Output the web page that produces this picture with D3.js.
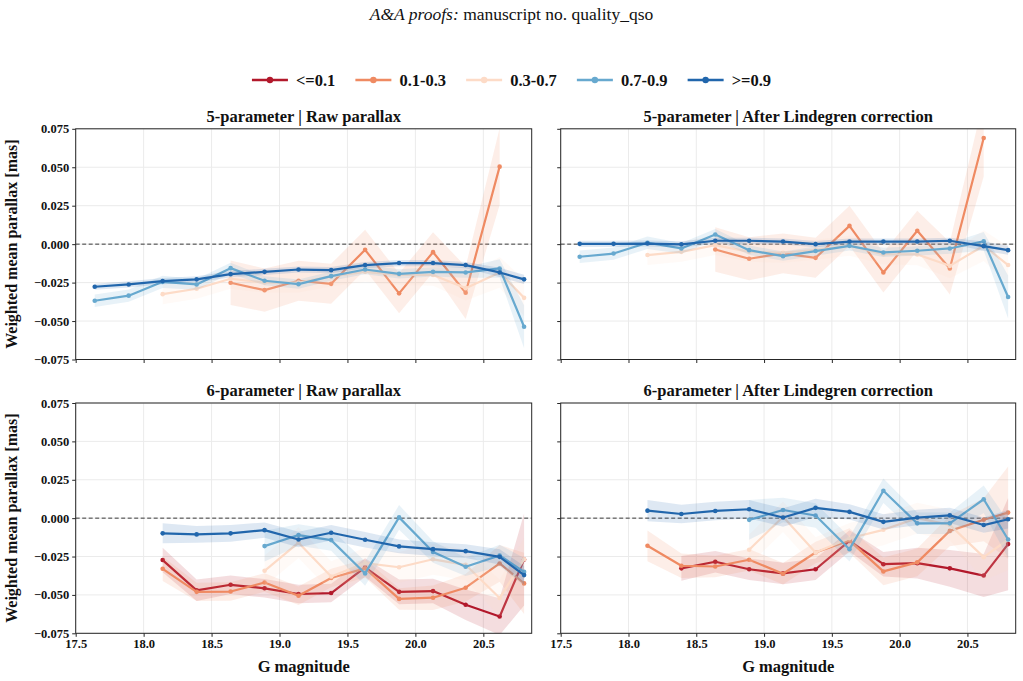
<!DOCTYPE html>
<html><head><meta charset="utf-8">
<script src="https://cdn.jsdelivr.net/npm/d3@7"></script>
<style>
body{margin:0;background:#fff}
text{font-family:"Liberation Serif","Times New Roman",serif}
</style>
</head><body><svg id="c" width="1023" height="681"></svg>
<script>
// ---------------- data ----------------
const G = [17.64,17.89,18.14,18.39,18.64,18.89,19.14,19.38,19.63,19.88,20.13,20.37,20.62,20.80];
const seriesNames = ["<=0.1","0.1-0.3","0.3-0.7","0.7-0.9",">=0.9"];
const seriesColors = ["#b2182b","#ef8a62","#fddbc7","#67a9cf","#2166ac"];
const panelTitles = ["5-parameter | Raw parallax","5-parameter | After Lindegren correction",
                     "6-parameter | Raw parallax","6-parameter | After Lindegren correction"];
const xTicks = [17.5,18.0,18.5,19.0,19.5,20.0,20.5];
const yTicks = [-0.075,-0.050,-0.025,0.000,0.025,0.050,0.075];
const _ = null;

// 5-parameter raw
const raw5_q01  = [_,_,_,_,_,_,_,_,_,_,_,_,_,_];
const raw5_q13  = [_,_,_,_,-0.0251,-0.0299,-0.0238,-0.0258,-0.0037,-0.0320,-0.0052,-0.0316,0.0504,_];
const raw5_q37  = [_,_,-0.0325,-0.0290,-0.0225,-0.0250,-0.0250,-0.0210,-0.0180,-0.0200,-0.0200,-0.0286,-0.0184,-0.0349];
const raw5_q79  = [-0.0368,-0.0335,-0.0245,-0.0262,-0.0156,-0.0238,-0.0260,-0.0208,-0.0165,-0.0193,-0.0180,-0.0184,-0.0158,-0.0537];
const raw5_q9   = [-0.0277,-0.0262,-0.0240,-0.0229,-0.0195,-0.0180,-0.0165,-0.0169,-0.0136,-0.0123,-0.0123,-0.0136,-0.0184,-0.0229];
const raw5_e01  = [_,_,_,_,_,_,_,_,_,_,_,_,_,_];
const raw5_e13  = [_,_,_,_,0.0145,0.0140,0.0130,0.0130,0.0130,0.0130,0.0130,0.0170,0.0250,_];
const raw5_e37  = [_,_,0.0065,0.0065,0.0065,0.0065,0.0065,0.0065,0.0065,0.0065,0.0070,0.0080,0.0100,0.0120];
const raw5_e79  = [0.0040,0.0040,0.0040,0.0035,0.0035,0.0030,0.0030,0.0030,0.0030,0.0030,0.0030,0.0035,0.0060,0.0140];
const raw5_e9   = [0.0020,0.0020,0.0020,0.0020,0.0020,0.0020,0.0020,0.0020,0.0020,0.0020,0.0020,0.0020,0.0030,0.0030];

// 5-parameter Lindegren
const lin5_q01  = [_,_,_,_,_,_,_,_,_,_,_,_,_,_];
const lin5_q13  = [_,_,_,_,-0.0035,-0.0095,-0.0060,-0.0089,0.0119,-0.0184,0.0087,-0.0158,0.0690,_];
const lin5_q37  = [_,_,-0.0071,-0.0050,-0.0006,-0.0050,-0.0056,-0.0037,-0.0010,-0.0065,-0.0067,-0.0141,-0.0010,-0.0136];
const lin5_q79  = [-0.0082,-0.0061,0.0009,-0.0028,0.0063,-0.0039,-0.0078,-0.0045,-0.0011,-0.0054,-0.0043,-0.0028,0.0019,-0.0344];
const lin5_q9   = [0.0002,0.0002,0.0004,-0.0001,0.0022,0.0022,0.0017,0.0000,0.0017,0.0017,0.0017,0.0022,-0.0013,-0.0039];
const lin5_e01  = [_,_,_,_,_,_,_,_,_,_,_,_,_,_];
const lin5_e13  = [_,_,_,_,0.0145,0.0140,0.0130,0.0130,0.0130,0.0130,0.0130,0.0170,0.0250,_];
const lin5_e37  = [_,_,0.0065,0.0065,0.0065,0.0065,0.0065,0.0065,0.0065,0.0065,0.0070,0.0080,0.0100,0.0120];
const lin5_e79  = [0.0040,0.0040,0.0040,0.0035,0.0035,0.0030,0.0030,0.0030,0.0030,0.0030,0.0030,0.0035,0.0060,0.0140];
const lin5_e9   = [0.0020,0.0020,0.0020,0.0020,0.0020,0.0020,0.0020,0.0020,0.0020,0.0020,0.0020,0.0020,0.0030,0.0030];

// 6-parameter raw
const raw6_q01  = [_,_,-0.0273,-0.0470,-0.0434,-0.0457,-0.0494,-0.0488,-0.0321,-0.0480,-0.0475,-0.0564,-0.0641,-0.0269];
const raw6_q13  = [_,_,-0.0330,-0.0480,-0.0478,-0.0419,-0.0505,-0.0390,-0.0327,-0.0526,-0.0518,-0.0453,-0.0295,-0.0425];
const raw6_q37  = [_,_,_,_,_,-0.0343,-0.0160,-0.0380,-0.0293,-0.0320,-0.0268,-0.0304,-0.0520,-0.0268];
const raw6_q79  = [_,_,_,_,_,-0.0182,-0.0110,-0.0143,-0.0360,0.0005,-0.0220,-0.0317,-0.0243,-0.0350];
const raw6_q9   = [_,_,-0.0099,-0.0106,-0.0099,-0.0078,-0.0139,-0.0095,-0.0141,-0.0184,-0.0202,-0.0215,-0.0252,-0.0371];
const raw6_e01  = [_,_,0.0080,0.0070,0.0060,0.0060,0.0060,0.0060,0.0060,0.0080,0.0080,0.0100,0.0120,0.0300];
const raw6_e13  = [_,_,0.0080,0.0060,0.0060,0.0060,0.0060,0.0060,0.0060,0.0070,0.0080,0.0090,0.0120,0.0200];
const raw6_e37  = [_,_,_,_,_,0.0100,0.0100,0.0100,0.0100,0.0100,0.0100,0.0100,0.0120,0.0140];
const raw6_e79  = [_,_,_,_,_,0.0100,0.0070,0.0070,0.0080,0.0080,0.0070,0.0060,0.0070,0.0090];
const raw6_e9   = [_,_,0.0065,0.0055,0.0055,0.0050,0.0050,0.0050,0.0050,0.0045,0.0045,0.0045,0.0050,0.0060];

// 6-parameter Lindegren
const lin6_q01  = [_,_,_,-0.0327,-0.0284,-0.0333,-0.0360,-0.0333,-0.0148,-0.0300,-0.0293,-0.0327,-0.0374,-0.0169];
const lin6_q13  = [_,_,-0.0180,-0.0310,-0.0315,-0.0271,-0.0362,-0.0224,-0.0146,-0.0347,-0.0288,-0.0083,-0.0010,0.0036];
const lin6_q37  = [_,_,_,_,_,-0.0206,0.0009,-0.0224,-0.0131,-0.0076,0.0000,-0.0044,-0.0254,-0.0139];
const lin6_q79  = [_,_,_,_,_,-0.0011,0.0053,0.0017,-0.0202,0.0178,-0.0034,-0.0034,0.0123,-0.0139];
const lin6_q9   = [_,_,0.0049,0.0027,0.0047,0.0058,0.0004,0.0067,0.0041,-0.0024,0.0004,0.0018,-0.0045,-0.0007];
const lin6_e01  = [_,_,_,0.0080,0.0070,0.0070,0.0070,0.0070,0.0070,0.0080,0.0100,0.0120,0.0140,0.0300];
const lin6_e13  = [_,_,0.0100,0.0080,0.0070,0.0070,0.0070,0.0070,0.0080,0.0090,0.0090,0.0100,0.0140,0.0300];
const lin6_e37  = [_,_,_,_,_,0.0100,0.0100,0.0100,0.0100,0.0100,0.0100,0.0100,0.0150,0.0200];
const lin6_e79  = [_,_,_,_,_,0.0130,0.0080,0.0080,0.0080,0.0080,0.0070,0.0070,0.0090,0.0120];
const lin6_e9   = [_,_,0.0070,0.0060,0.0060,0.0060,0.0060,0.0060,0.0050,0.0050,0.0050,0.0050,0.0050,0.0060];

const panelValues = [
  [raw5_q01,raw5_q13,raw5_q37,raw5_q79,raw5_q9],
  [lin5_q01,lin5_q13,lin5_q37,lin5_q79,lin5_q9],
  [raw6_q01,raw6_q13,raw6_q37,raw6_q79,raw6_q9],
  [lin6_q01,lin6_q13,lin6_q37,lin6_q79,lin6_q9]];
const panelErrors = [
  [raw5_e01,raw5_e13,raw5_e37,raw5_e79,raw5_e9],
  [lin5_e01,lin5_e13,lin5_e37,lin5_e79,lin5_e9],
  [raw6_e01,raw6_e13,raw6_e37,raw6_e79,raw6_e9],
  [lin6_e01,lin6_e13,lin6_e37,lin6_e79,lin6_e9]];

// ---------------- layout ----------------
const svg = d3.select("#c");
const W = 1023, H = 681;
const colX = [[75.7,531.7],[560.7,1015.7]];
const rowY = [[128.8,359.5],[403.0,633.3]];
const xDomain = [17.5, 20.856];
const yDomain = [-0.075, 0.075];
const fmtY = v => d3.format(".3f")(v).replace("-", "\u2212");
const fmtX = d3.format(".1f");
const axisColor = "#262626";

// figure title
const title = svg.append("text").attr("x", W/2).attr("y", 20).attr("text-anchor","middle")
  .style("font-size","17.5px").attr("fill","#111");
title.append("tspan").style("font-style","italic").text("A&A proofs:");
title.append("tspan").text(" manuscript no. quality_qso");

panelValues.forEach((vals, p) => {
  const r = Math.floor(p/2), c = p % 2;
  const [x0,x1] = colX[c], [y0,y1] = rowY[r];
  const x = d3.scaleLinear().domain(xDomain).range([x0,x1]);
  const y = d3.scaleLinear().domain(yDomain).range([y1,y0]);
  const g = svg.append("g");
  const clipId = "clip"+p;
  svg.append("clipPath").attr("id",clipId).append("rect")
    .attr("x",x0).attr("y",y0).attr("width",x1-x0).attr("height",y1-y0);

  // grid
  g.append("g").selectAll("line").data(xTicks).join("line")
    .attr("x1",d=>x(d)).attr("x2",d=>x(d)).attr("y1",y0).attr("y2",y1)
    .attr("stroke","#ebebeb").attr("stroke-width",1);
  g.append("g").selectAll("line").data(yTicks).join("line")
    .attr("x1",x0).attr("x2",x1).attr("y1",d=>y(d)).attr("y2",d=>y(d))
    .attr("stroke","#ebebeb").attr("stroke-width",1);

  // zero line
  g.append("line").attr("x1",x0).attr("x2",x1).attr("y1",y(0)).attr("y2",y(0))
    .attr("stroke","#3a3a3a").attr("stroke-width",1).attr("stroke-dasharray","4,2.5");

  const plotG = g.append("g").attr("clip-path",`url(#${clipId})`);
  vals.forEach((arr, s) => {
    const errs = panelErrors[p][s];
    const pts = G.map((gv,i) => ({g:gv, v:arr[i], e:errs[i]}));
    const color = seriesColors[s];
    const area = d3.area().defined(d=>d.v!=null)
      .x(d=>x(d.g)).y0(d=>y(d.v-d.e)).y1(d=>y(d.v+d.e));
    plotG.append("path").datum(pts).attr("d",area).attr("fill",color).attr("fill-opacity",0.15);
    const line = d3.line().defined(d=>d.v!=null).x(d=>x(d.g)).y(d=>y(d.v));
    plotG.append("path").datum(pts).attr("d",line).attr("fill","none")
      .attr("stroke",color).attr("stroke-width",2.2).attr("stroke-linejoin","round");
    plotG.append("g").selectAll("circle").data(pts.filter(d=>d.v!=null)).join("circle")
      .attr("cx",d=>x(d.g)).attr("cy",d=>y(d.v)).attr("r",2.3).attr("fill",color);
  });

  // spines
  g.append("rect").attr("x",x0).attr("y",y0).attr("width",x1-x0).attr("height",y1-y0)
    .attr("fill","none").attr("stroke",axisColor).attr("stroke-width",1);

  // axes
  const xa = d3.axisBottom(x).tickValues(xTicks).tickSize(3.5).tickPadding(2)
    .tickFormat(r===1 ? fmtX : () => "");
  const gx = g.append("g").attr("transform",`translate(0,${y1})`).call(xa);
  const ya = d3.axisLeft(y).tickValues(yTicks).tickSize(3.5).tickPadding(3)
    .tickFormat(c===0 ? fmtY : () => "");
  const gy = g.append("g").attr("transform",`translate(${x0},0)`).call(ya);
  [gx,gy].forEach(a => {
    a.select(".domain").remove();
    a.selectAll("line").attr("stroke",axisColor);
    a.selectAll("text").attr("fill","#111").style("font-size","12.5px").style("font-weight","bold")
      .style("font-family",'"Liberation Serif","Times New Roman",serif');
  });

  // panel title
  svg.append("text").attr("x",(x0+x1)/2).attr("y",y0-7).attr("text-anchor","middle")
    .style("font-size","16.5px").style("font-weight","bold").attr("fill","#111").text(panelTitles[p]);

  if (c===0) {
    svg.append("text").attr("transform",`translate(17,${(y0+y1)/2}) rotate(-90)`)
      .attr("text-anchor","middle").style("font-size","16px").style("font-weight","bold")
      .attr("fill","#111").text("Weighted mean parallax [mas]");
  }
  if (r===1) {
    svg.append("text").attr("x",(x0+x1)/2).attr("y",672).attr("text-anchor","middle")
      .style("font-size","16.5px").style("font-weight","bold").attr("fill","#111").text("G magnitude");
  }
});

// legend
const leg = svg.append("g");
const legY = 80;
let lx = 0;
seriesNames.forEach((n,i) => {
  const it = leg.append("g");
  it.append("line").attr("x1",0).attr("x2",36).attr("y1",0).attr("y2",0)
    .attr("stroke",seriesColors[i]).attr("stroke-width",2.6);
  it.append("circle").attr("cx",18).attr("cy",0).attr("r",3.2).attr("fill",seriesColors[i]);
  const t = it.append("text").attr("x",44).attr("y",5.5).style("font-size","16.5px")
    .style("font-weight","bold").attr("fill","#111").text(n);
  const w = 44 + t.node().getComputedTextLength();
  it.attr("transform",`translate(${lx},${legY})`);
  lx += w + 20;
});
const legW = lx - 20;
leg.attr("transform",`translate(${(W-legW)/2},0)`);
</script>
</body></html>
